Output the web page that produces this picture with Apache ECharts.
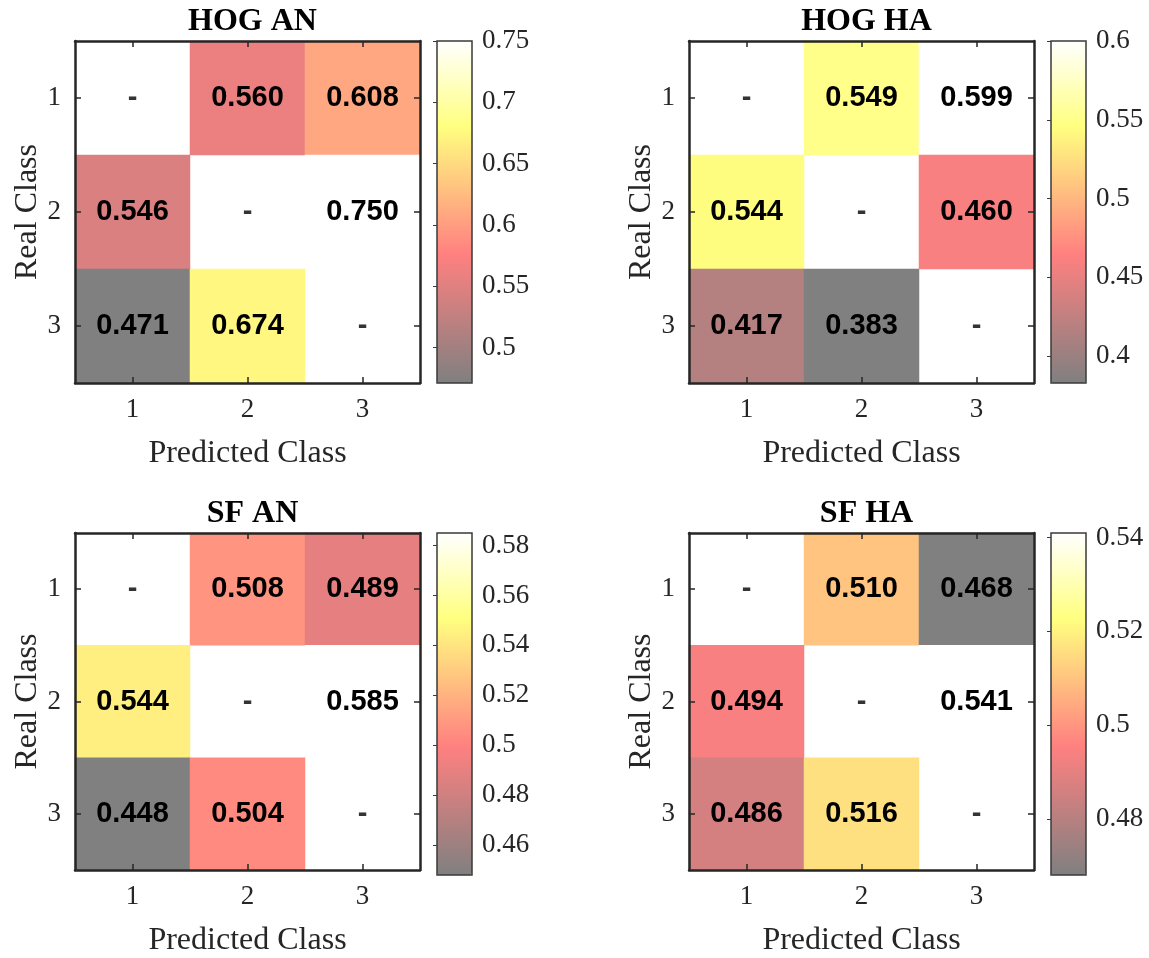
<!DOCTYPE html>
<html>
<head>
<meta charset="utf-8">
<script src="https://cdn.jsdelivr.net/npm/echarts@6/dist/echarts.min.js"></script>
<style>html,body{margin:0;padding:0;background:#fff;}#c{width:1149px;height:958px;}</style>
</head>
<body>
<div id="c"></div>
<script>
// ---- data ----
const classes = ['1', '2', '3'];
const titles = ['HOG AN', 'HOG HA', 'SF AN', 'SF HA'];
const hogAN = [[null, 0.560, 0.608], [0.546, null, 0.750], [0.471, 0.674, null]];
const hogHA = [[null, 0.549, 0.599], [0.544, null, 0.460], [0.417, 0.383, null]];
const sfAN  = [[null, 0.508, 0.489], [0.544, null, 0.585], [0.448, 0.504, null]];
const sfHA  = [[null, 0.510, 0.468], [0.494, null, 0.541], [0.486, 0.516, null]];
const ticksHogAN = [0.5, 0.55, 0.6, 0.65, 0.7, 0.75];
const ticksHogHA = [0.4, 0.45, 0.5, 0.55, 0.6];
const ticksSfAN  = [0.46, 0.48, 0.5, 0.52, 0.54, 0.56, 0.58];
const ticksSfHA  = [0.48, 0.5, 0.52, 0.54];

const matrices = [hogAN, hogHA, sfAN, sfHA];
const cbTicks = [ticksHogAN, ticksHogHA, ticksSfAN, ticksSfHA];

// hot colormap blended 50% with white
const hotAlpha = ['#808080', '#aa8080', '#d58080', '#ff8080', '#ffaa80', '#ffd580', '#ffff80', '#ffffbf', '#ffffff'];

const serif = 'Liberation Serif';
const sans = 'Liberation Sans';
const frame = '#262626';

const panels = [
  { x: 75, y: 41 }, { x: 689, y: 41 },
  { x: 75, y: 533 }, { x: 689, y: 533 }
];
const W = 345, H = 342, CBX = 362, CBW = 35;

const option = {
  backgroundColor: '#fff',
  animation: false,
  title: [], grid: [], xAxis: [], yAxis: [], series: [], visualMap: []
};

panels.forEach((p, i) => {
  const m = matrices[i];
  const vals = [];
  const cells = [];
  const diag = [];
  m.forEach((row, r) => row.forEach((v, c) => {
    if (v === null) diag.push([c, r]);
    else { cells.push([c, r, v]); vals.push(v); }
  }));
  const vmin = Math.min(...vals), vmax = Math.max(...vals);
  const tk = cbTicks[i];

  option.title.push({
    text: titles[i], left: p.x + W / 2, top: p.y - 40, textAlign: 'center',
    textStyle: { fontFamily: serif, fontWeight: 'bold', fontSize: 32, color: '#000' }
  });

  option.grid.push({ left: p.x, top: p.y, width: W, height: H, show: false });
  option.grid.push({ left: p.x + CBX, top: p.y, width: CBW, height: H, show: true, borderColor: '#3a3a3a', borderWidth: 1.5, backgroundColor: 'transparent', z: 20 });
  const g = i * 2, gc = i * 2 + 1;

  const axLine = { show: true, onZero: false, lineStyle: { color: frame, width: 2.5 } };
  const axTick = { show: true, inside: true, alignWithLabel: true, length: 6, lineStyle: { color: frame, width: 1.5 } };
  const xb = option.xAxis.length;
  option.xAxis.push({
    gridIndex: g, type: 'category', data: classes, position: 'bottom', z: 20,
    axisLine: axLine, axisTick: axTick,
    axisLabel: { fontFamily: serif, fontSize: 27, color: '#262626', margin: 13 },
    name: 'Predicted Class', nameLocation: 'middle', nameGap: 55,
    nameTextStyle: { fontFamily: serif, fontSize: 32, color: '#262626' }
  });
  option.xAxis.push({
    gridIndex: g, type: 'category', data: classes, position: 'top', z: 20,
    axisLine: axLine, axisTick: axTick, axisLabel: { show: false }
  });
  option.xAxis.push({ gridIndex: gc, type: 'value', min: 0, max: 1, show: false });
  const yb = option.yAxis.length;
  option.yAxis.push({
    gridIndex: g, type: 'category', data: classes, inverse: true, position: 'left', z: 20,
    axisLine: axLine, axisTick: axTick,
    axisLabel: { fontFamily: serif, fontSize: 27, color: '#262626', margin: 14 },
    name: 'Real Class', nameLocation: 'middle', nameGap: 30,
    nameTextStyle: { fontFamily: serif, fontSize: 32, color: '#262626' }
  });
  option.yAxis.push({
    gridIndex: g, type: 'category', data: classes, inverse: true, position: 'right', z: 20,
    axisLine: axLine, axisTick: axTick, axisLabel: { show: false }
  });
  option.yAxis.push({
    gridIndex: gc, type: 'value', min: Math.min(vmin, tk[0]), max: Math.max(vmax, tk[tk.length - 1]), position: 'right', z: 20,
    axisLine: { show: false }, splitLine: { show: false },
    axisTick: { show: true, inside: true, length: 4, customValues: tk, lineStyle: { color: '#3a3a3a', width: 1 } },
    axisLabel: { fontFamily: serif, fontSize: 27, color: '#262626', margin: 10, customValues: tk }
  });

  const sIdx = option.series.length;
  option.series.push({
    type: 'heatmap', xAxisIndex: xb, yAxisIndex: yb, data: cells,
    label: { show: true, formatter: (d) => d.value[2].toFixed(3), fontFamily: sans, fontWeight: 'bold', fontSize: 29, color: '#000' },
    emphasis: { disabled: true }, itemStyle: { borderWidth: 0 }
  });
  option.series.push({
    type: 'scatter', xAxisIndex: xb + 1, yAxisIndex: yb + 1, data: diag, symbolSize: 1,
    itemStyle: { color: 'rgba(0,0,0,0)' },
    label: { show: true, position: 'inside', formatter: '-', fontFamily: sans, fontWeight: 'bold', fontSize: 29, color: '#000' },
    emphasis: { disabled: true }, silent: true, z: 5
  });
  option.series.push({ type: 'line', xAxisIndex: xb + 2, yAxisIndex: yb + 2, data: [] });

  option.visualMap.push({
    type: 'continuous', seriesIndex: sIdx, dimension: 2, min: vmin, max: vmax,
    calculable: false, realtime: false, hoverLink: false, text: null, showLabel: false,
    left: p.x + CBX, top: p.y, itemWidth: CBW, itemHeight: H, padding: 0,
    inRange: { color: hotAlpha }, textStyle: { fontSize: 0 }
  });
});

const chart = echarts.init(document.getElementById('c'), null, { renderer: 'canvas' });
chart.setOption(option);
</script>
</body>
</html>
